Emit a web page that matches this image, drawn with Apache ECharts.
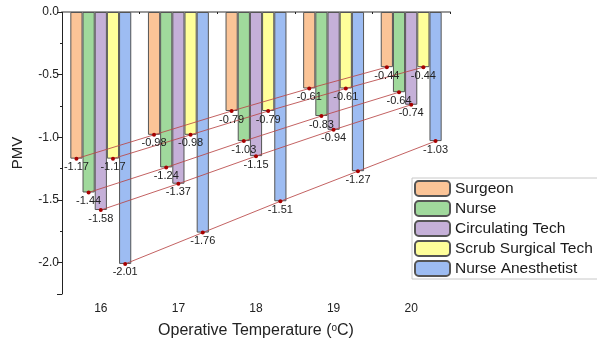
<!DOCTYPE html>
<html>
<head>
<meta charset="utf-8">
<script src="https://cdn.jsdelivr.net/npm/echarts@6/dist/echarts.min.js"></script>
<style>html,body{margin:0;padding:0;background:#fff;}#c{width:597px;height:344px;}</style>
</head>
<body>
<div id="c"></div>
<script>
var temperatures = ['16', '17', '18', '19', '20'];
var tempValues = [16, 17, 18, 19, 20];
var seriesNames = ['Surgeon', 'Nurse', 'Circulating Tech', 'Scrub Surgical Tech', 'Nurse Anesthetist'];
var surgeon = [-1.17, -0.98, -0.79, -0.61, -0.44];
var nurse = [-1.44, -1.24, -1.03, -0.83, -0.64];
var circulatingTech = [-1.58, -1.37, -1.15, -0.94, -0.74];
var scrubSurgicalTech = [-1.17, -0.98, -0.79, -0.61, -0.44];
var nurseAnesthetist = [-2.01, -1.76, -1.51, -1.27, -1.03];
var yMajorTicks = [0, 0.5, 1.0, 1.5, 2.0];

var allValues = [surgeon, nurse, circulatingTech, scrubSurgicalTech, nurseAnesthetist];
var colors = ['#FBC497', '#A0D99C', '#C5B0D8', '#FFFF9A', '#9DBCF2'];
var BAR_FRAC = 0.157;
var FONT = 'Liberation Sans, Arial, sans-serif';

var series = [];
allValues.forEach(function (vals, i) {
  series.push({
    name: seriesNames[i], type: 'bar', xAxisIndex: 0, yAxisIndex: 0,
    data: vals, barWidth: (BAR_FRAC * 100) + '%', barGap: '0%',
    itemStyle: { color: colors[i], borderColor: '#555', borderWidth: 1 },
    z: 2
  });
});
allValues.forEach(function (vals, i) {
  var off = (i - 2) * BAR_FRAC;
  series.push({
    name: 'line_' + i, type: 'line', xAxisIndex: 2, yAxisIndex: 0,
    data: vals.map(function (v, k) { return [tempValues[k] + off, v]; }),
    symbol: 'circle', symbolSize: 4,
    itemStyle: { color: '#A80000' },
    lineStyle: { color: 'rgba(185,70,70,0.85)', width: 1 },
    label: { show: true, position: 'bottom', distance: 1, fontFamily: FONT, fontSize: 11, color: '#222',
      formatter: function (p) { return p.value[1].toFixed(2); } },
    z: 5, silent: true, animation: false
  });
});

var option = {
  animation: false,
  textStyle: { fontFamily: FONT },
  grid: { left: 62, top: 12, width: 388, height: 284, containLabel: false },
  legend: {
    data: seriesNames, orient: 'vertical', left: 412, top: 178,
    itemWidth: 35, itemHeight: 15, itemGap: 3,
    padding: [2, 60, 2, 2], borderColor: '#c8c8c8', borderWidth: 1, backgroundColor: '#fff',
    textStyle: { fontFamily: FONT, fontSize: 15.5, color: '#1a1a1a' },
    selectedMode: false
  },
  xAxis: [
    { type: 'category', data: temperatures, position: 'bottom',
      axisLine: { show: true, lineStyle: { color: '#222', width: 1 } },
      axisTick: { show: true, alignWithLabel: true, length: 4, lineStyle: { color: '#222' } },
      axisLabel: { fontFamily: FONT, fontSize: 12, color: '#222', margin: 9 },
      name: 'Operative Temperature ({s|o}C)', nameLocation: 'middle', nameGap: 29,
      nameTextStyle: { fontFamily: FONT, fontSize: 16, color: '#222',
        rich: { s: { fontSize: 10, verticalAlign: 'top', padding: [0, 0, 6, 0], fontFamily: FONT, color: '#222' } } },
      splitLine: { show: false } },
    { type: 'category', data: temperatures, position: 'bottom',
      axisLine: { show: false }, axisTick: { show: true, length: 2, lineStyle: { color: '#222' } },
      axisLabel: { show: false }, splitLine: { show: false } },
    { type: 'value', min: 15.5, max: 20.5, position: 'top',
      axisLine: { show: true, onZero: false, lineStyle: { color: '#999', width: 2 } },
      axisTick: { show: false }, axisLabel: { show: false }, splitLine: { show: false } }
  ],
  yAxis: [
    { type: 'value', min: -2.25, max: 0, interval: 0.25,
      axisLine: { show: true, lineStyle: { color: '#222', width: 1 } },
      axisTick: { show: true, length: 2, lineStyle: { color: '#222' } },
      axisLabel: { show: false }, splitLine: { show: false } },
    { type: 'value', min: 0, max: 2.25, interval: 0.5, inverse: true, position: 'left',
      axisLine: { show: false },
      axisTick: { show: true, length: 5, lineStyle: { color: '#222' } },
      axisLabel: { fontFamily: FONT, fontSize: 12, color: '#222', margin: 3,
        formatter: function (v) { return yMajorTicks.indexOf(v) < 0 ? '' : (v === 0 ? '0.0' : '-' + v.toFixed(1)); } },
      name: 'PMV', nameLocation: 'middle', nameGap: 37, nameRotate: 90,
      nameTextStyle: { fontFamily: FONT, fontSize: 15, color: '#222' },
      splitLine: { show: false } }
  ],
  series: series
};
var chart = echarts.init(document.getElementById('c'), null, { renderer: 'canvas' });
chart.setOption(option);
</script>
</body>
</html>
